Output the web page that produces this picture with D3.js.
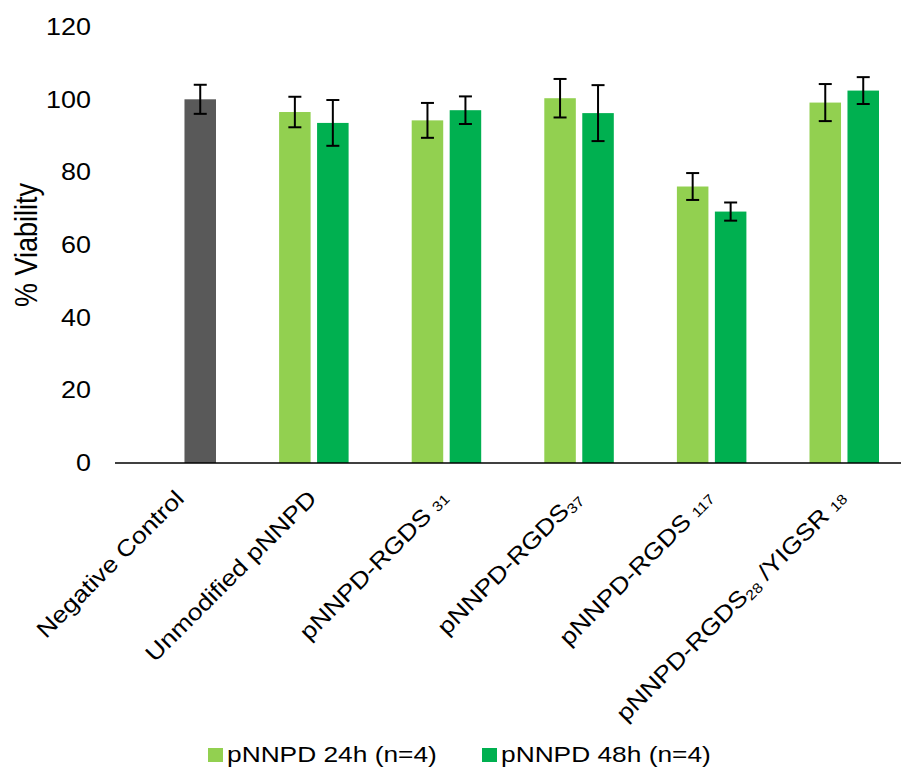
<!DOCTYPE html>
<meta charset="utf-8">
<script src="https://d3js.org/d3.v7.min.js"></script>
<style>
  body { margin: 0; background: #fff; }
  text { font-family: "Liberation Sans", Arial, sans-serif; fill: #000; }
</style>
<div id="chart"></div>
<script>
// data
const categories = ["Negative Control", "Unmodified pNNPD", "pNNPD-RGDS31", "pNNPD-RGDS37", "pNNPD-RGDS117", "pNNPD-RGDS28/YIGSR18"];
const series = ["pNNPD 24h (n=4)", "pNNPD 48h (n=4)"];
const mean24 = [null, 96.6, 94.3, 100.4, 76.1, 99.2];
const err24  = [null, 4.2, 4.8, 5.3, 3.7, 5.1];
const mean48 = [100.1, 93.6, 97.1, 96.3, 69.2, 102.5];
const err48  = [4.0, 6.3, 3.8, 7.7, 2.5, 3.7];
const yTicks = [0, 20, 40, 60, 80, 100, 120];
// tick label pieces, [text, isSmall]
const xLabels = [
  [["Negative Control", 0]],
  [["Unmodified pNNPD", 0]],
  [["pNNPD-RGDS ", 0], ["31", 1]],
  [["pNNPD-RGDS", 0], ["37", 1]],
  [["pNNPD-RGDS ", 0], ["117", 1]],
  [["pNNPD-RGDS", 0], ["28", 1], [" /YIGSR ", 0], ["18", 1]]
];
const colors = ["#92D050", "#00B050"];
const controlColor = "#595959";

const W = 901, H = 769;
const sx = 1.17; // text in the picture is a bit wide

const svg = d3.select("#chart").append("svg")
  .attr("width", W).attr("height", H);

const y = d3.scaleLinear().domain([0, 120]).range([463, 27]);
const x = d3.scaleBand().domain(categories).range([115, 910.6]);
const xs = d3.scaleBand().domain(series)
  .range([31.5, 101]).paddingInner(0.17);

// y axis (labels only)
const yAxis = svg.append("g")
  .attr("transform", "translate(91,0)")
  .call(d3.axisLeft(y).tickValues(yTicks).tickSize(0).tickPadding(0));
yAxis.select(".domain").remove();
yAxis.selectAll("text")
  .attr("transform", `scale(${sx},1)`)
  .style("font-size", "23px")
  .style("font-family", "Liberation Sans, Arial, sans-serif")
  .attr("fill", "#000");

svg.append("text")
  .attr("transform", `translate(26,245) scale(${sx},1) rotate(-90)`)
  .attr("text-anchor", "middle")
  .attr("dy", "0.35em")
  .style("font-size", "27px")
  .text("% Viability");

// bars
const rows = [];
categories.forEach((c, i) => {
  [mean24, mean48].forEach((m, s) => {
    const v = m[i];
    if (v == null) return;
    rows.push({ cat: c, s: s, v: v, e: [err24, err48][s][i], control: i === 0 });
  });
});

svg.append("g").selectAll("rect")
  .data(rows)
  .join("rect")
  .attr("x", d => x(d.cat) + xs(series[d.s]))
  .attr("y", d => y(d.v))
  .attr("width", xs.bandwidth())
  .attr("height", d => y(0) - y(d.v))
  .attr("fill", d => d.control ? controlColor : colors[d.s]);

// error bars
const eb = svg.append("g").attr("stroke", "#000").attr("stroke-width", 2);
rows.forEach(d => {
  const cx = x(d.cat) + xs(series[d.s]) + xs.bandwidth() / 2;
  eb.append("line").attr("x1", cx).attr("x2", cx)
    .attr("y1", y(d.v + d.e)).attr("y2", y(d.v - d.e));
  [d.v + d.e, d.v - d.e].forEach(v => {
    eb.append("line").attr("x1", cx - 6.5).attr("x2", cx + 6.5)
      .attr("y1", y(v)).attr("y2", y(v));
  });
});

// baseline
svg.append("line")
  .attr("x1", 115).attr("x2", W)
  .attr("y1", y(0)).attr("y2", y(0))
  .attr("stroke", "#000").attr("stroke-width", 1.5);

// x labels rotated
categories.forEach((c, i) => {
  const cx = x(c) + x.bandwidth() / 2;
  const t = svg.append("text")
    .attr("transform", `translate(${cx + 4},500) rotate(-45) scale(1.15,1)`)
    .attr("text-anchor", "end")
    .style("font-size", "23px");
  xLabels[i].forEach(p => {
    const ts = t.append("tspan")
      .style("font-size", p[1] ? "14px" : "23px")
      .text(p[0]);
    if (p[1] && (p[0] === "28" || p[0] === "37")) ts.attr("dy", 3);
    else if (!p[1] && p[0].startsWith(" /")) ts.attr("dy", -3);
  });
});

// legend
const leg = svg.append("g");
const legX = [208, 482];
series.forEach((s, i) => {
  leg.append("rect")
    .attr("x", legX[i]).attr("y", 748)
    .attr("width", 15).attr("height", 14)
    .attr("fill", colors[i]);
  leg.append("text")
    .attr("transform", `translate(${legX[i] + 19},762) scale(${sx},1)`)
    .style("font-size", "22.5px")
    .text(s);
});
</script>
